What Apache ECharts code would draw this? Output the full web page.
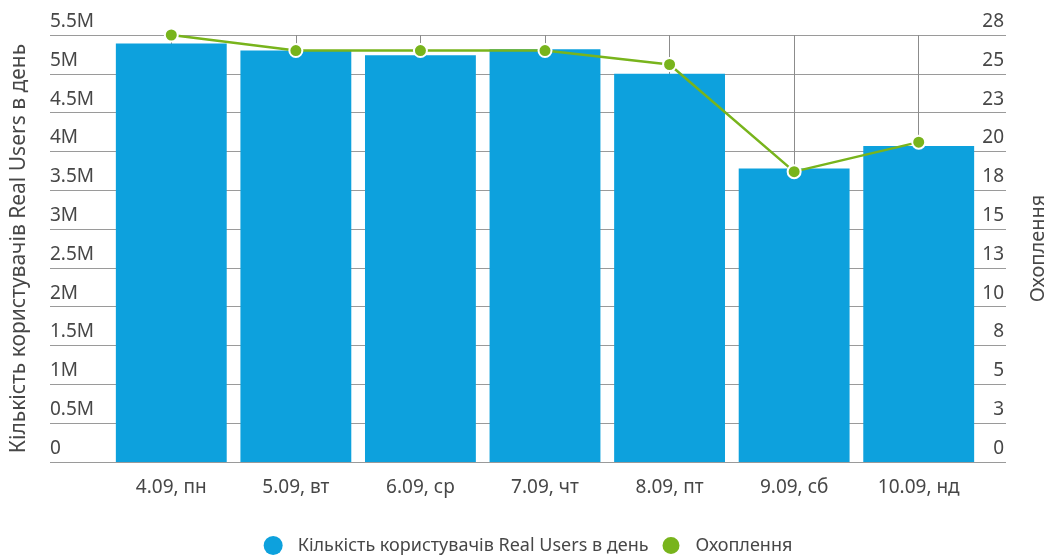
<!DOCTYPE html>
<html>
<head>
<meta charset="utf-8">
<script src="https://cdn.jsdelivr.net/npm/echarts@6/dist/echarts.min.js"></script>
<style>
  html, body { margin: 0; padding: 0; background: #fff; }
</style>
</head>
<body>
<div id="chart" style="width: 1056px; height: 559px"></div>
<script>
const categories = ["4.09, пн", "5.09, вт", "6.09, ср", "7.09, чт", "8.09, пт", "9.09, сб", "10.09, нд"];
const usersPerDay = [5390000, 5300000, 5240000, 5315000, 5000000, 3780000, 4070000];
const reach = [27.5, 26.5, 26.5, 26.5, 25.6, 18.7, 20.6];
const usersName = "Кількість користувачів Real Users в день";
const reachName = "Охоплення";

const font = "'Noto Sans', 'DejaVu Sans', sans-serif";
const textColor = "#474747";
const gridTop = 35;
const gridBottom = 97;

const myChart = echarts.init(document.getElementById("chart"));
const option = {
  textStyle: { fontFamily: font },
  legend: {
    bottom: -2,
    left: "center",
    icon: "circle",
    itemWidth: 19,
    itemHeight: 19,
    itemGap: 12,
    textStyle: { fontSize: 18, color: textColor, fontFamily: font, padding: [0, 0, 0, 10] },
    data: [usersName, reachName],
  },
  grid: [
    { left: 50, right: 46, top: gridTop, bottom: gridBottom },
    { left: 109, right: 75, top: gridTop, bottom: gridBottom },
  ],
  xAxis: [
    { gridIndex: 0, type: "category", data: categories, show: false },
    {
      gridIndex: 1,
      type: "category",
      data: categories,
      axisLine: { show: false },
      axisTick: { show: false },
      axisLabel: { fontSize: 19, color: textColor, margin: 16, fontFamily: font },
      splitLine: { show: true, alignWithLabel: true, lineStyle: { color: "#8c8c8c", width: 1 } },
    },
  ],
  yAxis: [
    {
      gridIndex: 0,
      type: "value",
      position: "left",
      min: 0,
      max: 5500000,
      interval: 500000,
      name: usersName,
      nameLocation: "middle",
      nameGap: 20,
      nameTextStyle: { fontSize: 21, color: textColor, fontFamily: font },
      axisLine: { show: false },
      axisTick: { show: false },
      axisLabel: {
        inside: true,
        margin: 0,
        verticalAlign: "bottom",
        padding: [0, 0, 4, 0],
        fontSize: 19,
        color: textColor,
        fontFamily: font,
        formatter: (v) => (v === 0 ? "0" : v / 1000000 + "M"),
      },
      splitLine: { lineStyle: { color: "#9a9a9a", width: 1 } },
    },
    {
      gridIndex: 0,
      type: "value",
      position: "right",
      min: 0,
      max: 27.5,
      interval: 2.5,
      name: reachName,
      nameLocation: "middle",
      nameGap: 22,
      nameTextStyle: { fontSize: 20, color: textColor, fontFamily: font },
      axisLine: { show: false },
      axisTick: { show: false },
      axisLabel: {
        inside: true,
        margin: 2,
        verticalAlign: "bottom",
        padding: [0, 0, 4, 0],
        fontSize: 19,
        color: textColor,
        fontFamily: font,
        formatter: (v) => String(Math.round(v)),
      },
      splitLine: { show: false },
    },
    { gridIndex: 1, type: "value", min: 0, max: 5500000, interval: 500000, show: false, splitLine: { show: false } },
    { gridIndex: 1, type: "value", min: 0, max: 27.5, interval: 2.5, show: false, splitLine: { show: false } },
  ],
  series: [
    {
      name: usersName,
      type: "bar",
      xAxisIndex: 1,
      yAxisIndex: 2,
      data: usersPerDay,
      barCategoryGap: "11%",
      itemStyle: { color: "#0da1dd" },
      z: 2,
    },
    {
      name: reachName,
      type: "line",
      xAxisIndex: 1,
      yAxisIndex: 3,
      data: reach,
      symbol: "circle",
      symbolSize: 13,
      lineStyle: { color: "#78b41c", width: 2.5 },
      itemStyle: { color: "#78b41c", borderColor: "#fff", borderWidth: 2 },
      z: 3,
    },
  ],
};
myChart.setOption(option);
window.addEventListener("resize", function () {
  myChart.resize();
});
</script>
</body>
</html>
